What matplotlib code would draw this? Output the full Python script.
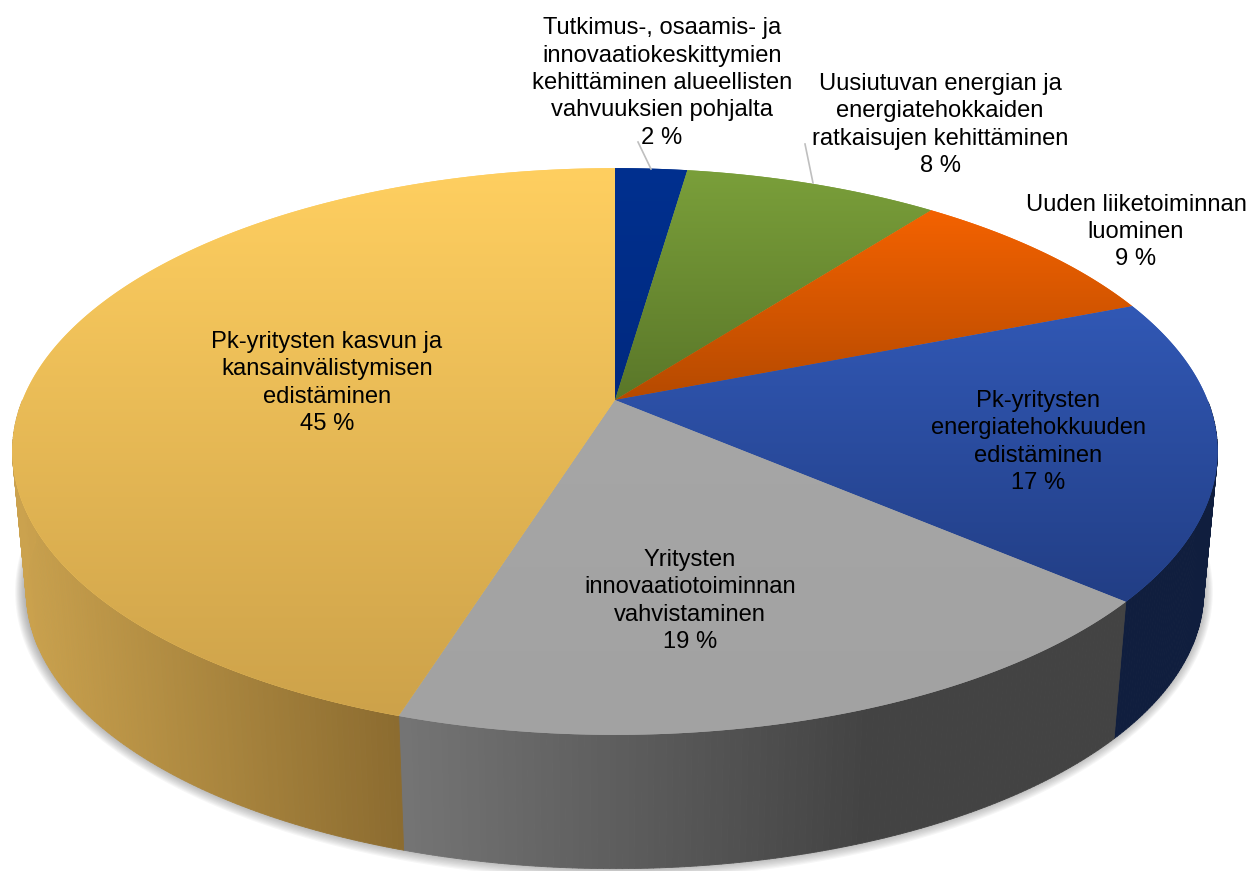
import numpy as np
import matplotlib
matplotlib.use("Agg")
import matplotlib.pyplot as plt
from matplotlib.collections import PolyCollection
from matplotlib.patches import Polygon
from matplotlib.colors import to_rgb

labels = [
    "Tutkimus-, osaamis- ja\ninnovaatiokeskittymien\nkehittäminen alueellisten\nvahvuuksien pohjalta",
    "Uusiutuvan energian ja\nenergiatehokkaiden\nratkaisujen kehittäminen",
    "Uuden liiketoiminnan\nluominen",
    "Pk-yritysten\nenergiatehokkuuden\nedistäminen",
    "Yritysten\ninnovaatiotoiminnan\nvahvistaminen",
    "Pk-yritysten kasvun ja\nkansainvälistymisen\nedistäminen",
]
values = [2.3, 8.15, 8.6, 17.2, 18.63, 45.12]
top_start = ["#00308F", "#7A9F3A", "#F46200", "#3158B5", "#A6A6A6", "#FFCF60"]
top_end = ["#00297F", "#5A7729", "#B54A00", "#223E85", "#A2A2A2", "#CDA24A"]
wall_start = ["#00205F", "#55702A", "#A04000", "#101E3E", "#757575", "#CBA24E"]
wall_end = ["#00205F", "#55702A", "#A04000", "#101E3E", "#434343", "#8C6C30"]
wall_reach = [1.0, 1.0, 1.0, 1.0, 0.65, 1.0]
label_xy = [(662, 83), (940, 125), (1136, 232), (1038, 442), (690, 601), (327, 383)]
leaders = [((638, 142), (651, 169)), ((805, 144), (813, 183))]

CX, CY = 615.0, 400.0
A, B, K = 592.5, 274.0, 0.1817
SCALE, BOTTOM_Y = 0.977, 541.5


def rim(theta, scale=1.0, cy=CY, grow=0.0, dx=0.0):
    d = 1 + K * np.cos(theta)
    return np.column_stack([CX + dx + (scale * A + grow) * np.sin(theta) / d,
                            cy - (scale * B + grow) * np.cos(theta) / d])


def mix(c0, c1, t):
    c0, c1 = np.array(to_rgb(c0)), np.array(to_rgb(c1))
    return c0 + (c1 - c0) * np.clip(t, 0, 1)


fig = plt.figure(figsize=(12.5, 8.71), dpi=100)
ax = fig.add_axes([0, 0, 1, 1])
ax.set_xlim(0, 1250)
ax.set_ylim(871, 0)
ax.axis("off")

# soft shadow under the body
full = np.linspace(0, 2 * np.pi, 361)
for g in np.linspace(10, -4, 15):
    ax.add_patch(Polygon(rim(full, SCALE, BOTTOM_Y - 2, grow=g, dx=-1), closed=True,
                         fc="#666666", ec="none", alpha=0.06, zorder=1))

edges = np.concatenate([[0], np.cumsum(values)]) / sum(values) * 2 * np.pi

# walls: thin strips on the front half only
for i in range(len(values)):
    th = np.linspace(edges[i], edges[i + 1], max(int(np.degrees(edges[i + 1] - edges[i]) * 2), 2))
    th = th[np.cos(th) < 0.0]
    if len(th) < 2:
        continue
    up, lo = rim(th), rim(th, SCALE, BOTTOM_Y)
    x0, x1 = lo[:, 0].min(), lo[:, 0].max()
    quads, cols = [], []
    for j in range(len(th) - 1):
        quads.append([up[j], up[j + 1], lo[j + 1], lo[j]])
        t = (lo[j, 0] - x0) / max((x1 - x0) * wall_reach[i], 1)
        cols.append(mix(wall_start[i], wall_end[i], t))
    ax.add_collection(PolyCollection(quads, facecolors=cols, edgecolors=cols,
                                     linewidths=0.6, zorder=2))

# top faces with vertical gradient
for i in range(len(values)):
    th = np.linspace(edges[i], edges[i + 1], 300)
    pts = np.vstack([[CX, CY], rim(th)])
    poly = Polygon(pts, closed=True, fc=top_start[i], ec="none", zorder=3)
    ax.add_patch(poly)
    y0, y1 = pts[:, 1].min(), pts[:, 1].max()
    x0, x1 = pts[:, 0].min(), pts[:, 0].max()
    grad = np.linspace(0, 1, 256)[:, None, None]
    c0, c1 = np.array(to_rgb(top_start[i])), np.array(to_rgb(top_end[i]))
    img = ax.imshow(c0 + (c1 - c0) * grad, extent=[x0, x1, y1, y0],
                    aspect="auto", zorder=4, interpolation="bilinear")
    img.set_clip_path(poly)
ax.set_xlim(0, 1250)
ax.set_ylim(871, 0)

for (p, q) in leaders:
    ax.plot([p[0], q[0]], [p[1], q[1]], color="#BFBFBF", lw=1.2, zorder=5)

for name, v, (x, y) in zip(labels, values, label_xy):
    ax.text(x, y, f"{name}\n{round(v)} %", ha="center", va="center",
            multialignment="center", family="Liberation Sans", fontsize=17.1,
            linespacing=1.31, color="#000000", zorder=6)

fig.savefig("out.png", dpi=100)
